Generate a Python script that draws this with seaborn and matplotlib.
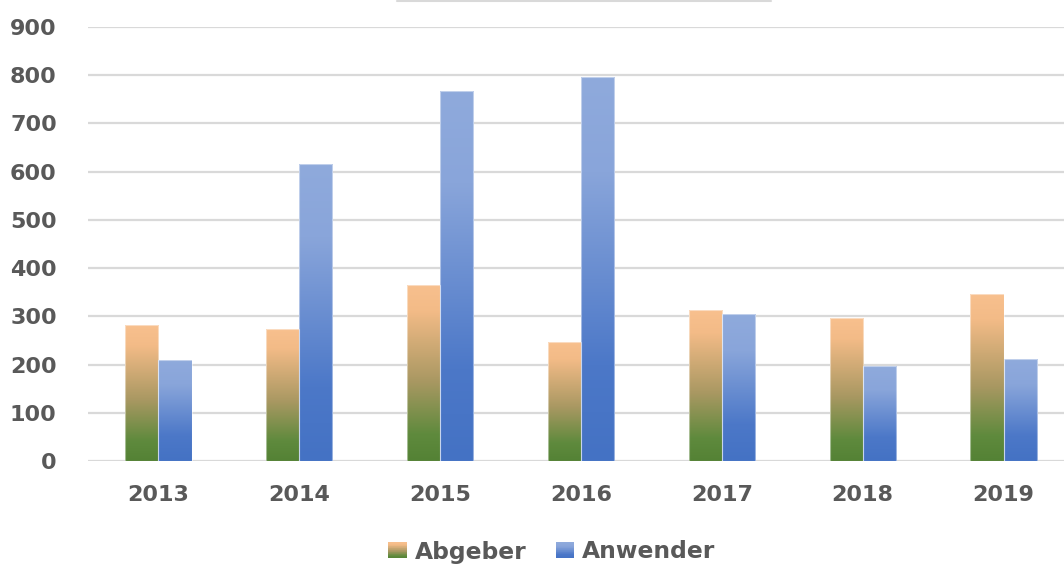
import numpy as np
import pandas as pd
import matplotlib
matplotlib.use("Agg")
import matplotlib.pyplot as plt
from matplotlib.colors import LinearSegmentedColormap
from matplotlib.patches import Rectangle
from matplotlib.legend_handler import HandlerBase
from matplotlib.lines import Line2D
import seaborn as sns

# Yearly counts
years = ["2013", "2014", "2015", "2016", "2017", "2018", "2019"]
abgeber = [282, 274, 365, 247, 313, 297, 346]
anwender = [210, 616, 767, 797, 304, 197, 211]
series_names = ["Abgeber", "Anwender"]
y_ticks = [0, 100, 200, 300, 400, 500, 600, 700, 800, 900]

df = pd.DataFrame({
    "Jahr": years * 2,
    "Wert": abgeber + anwender,
    "Gruppe": [series_names[0]] * len(years) + [series_names[1]] * len(years),
})

# Vertical fills: index 0 = bar top, 1 = bar bottom
cmap_abg = LinearSegmentedColormap.from_list(
    "abg", [(0.0, "#F8C08E"), (0.15, "#F3BB87"), (0.55, "#A99862"),
            (0.85, "#5F8A3D"), (1.0, "#548235")])
cmap_anw = LinearSegmentedColormap.from_list(
    "anw", [(0.0, "#8FAADC"), (0.25, "#89A5DA"), (0.75, "#4C78C8"),
            (1.0, "#4472C4")])
cmaps = {series_names[0]: cmap_abg, series_names[1]: cmap_anw}

sns.set_theme(style="white")
plt.rcParams["font.family"] = ["DejaVu Sans"]

fig = plt.figure(figsize=(10.64, 5.65), dpi=100)
ax = fig.add_axes([88 / 1064, 104 / 565, (1074 - 88) / 1064, (461 - 27) / 565])

sns.barplot(data=df, x="Jahr", y="Wert", hue="Gruppe", order=years,
            hue_order=series_names, width=0.47, gap=0, dodge=True,
            palette=["#F8C08E", "#8FAADC"], legend=False, ax=ax,
            errorbar=None, saturation=1)

ax.set_ylim(0, 900)
ax.set_xlim(-0.5, len(years) - 0.5)

# Replace flat fills with vertical gradients clipped to each bar
grad = np.linspace(0, 1, 256).reshape(-1, 1)
bars = [p for p in ax.patches if isinstance(p, Rectangle)]
n = len(years)
for i, patch in enumerate(bars[:2 * n]):
    name = series_names[i // n]
    x0, y0 = patch.get_x(), patch.get_y()
    w, h = patch.get_width(), patch.get_height()
    im = ax.imshow(grad, cmap=cmaps[name], aspect="auto",
                   extent=[x0, x0 + w, y0, y0 + h], origin="upper",
                   interpolation="bilinear", zorder=2)
    im.set_clip_path(patch)
    patch.set_facecolor("none")
    patch.set_edgecolor((1, 1, 1, 0.45))
    patch.set_linewidth(0.8)
    patch.set_zorder(3)

ax.set_xlim(-0.5, len(years) - 0.5)
ax.set_ylim(0, 900)

ax.set_yticks(y_ticks)
ax.yaxis.grid(True, color="#D9D9D9", linewidth=1.6)
ax.xaxis.grid(False)
ax.set_axisbelow(True)
for s in ax.spines.values():
    s.set_visible(False)
ax.set_xlabel("")
ax.set_ylabel("")
ax.tick_params(axis="y", length=0, pad=22.5, labelsize=16, labelcolor="#595959")
ax.tick_params(axis="x", length=0, pad=17.5, labelsize=16, labelcolor="#595959")
for lab in ax.get_xticklabels() + ax.get_yticklabels():
    lab.set_fontweight("bold")


class GradientSquare(HandlerBase):
    def __init__(self, cmap, steps=24):
        super().__init__()
        self.cmap = cmap
        self.steps = steps

    def create_artists(self, legend, orig_handle, xdescent, ydescent,
                       width, height, fontsize, trans):
        x0 = -xdescent
        y0 = -ydescent
        step = height / self.steps
        arts = []
        for k in range(self.steps):
            frac = 1 - (k + 0.5) / self.steps
            r = Rectangle((x0, y0 + k * step), width, step * 1.05,
                          facecolor=self.cmap(frac), edgecolor="none",
                          transform=trans)
            arts.append(r)
        return arts


h_abg = Rectangle((0, 0), 1, 1)
h_anw = Rectangle((0, 0), 1, 1)
leg = fig.legend([h_abg, h_anw], series_names,
                 handler_map={h_abg: GradientSquare(cmap_abg),
                              h_anw: GradientSquare(cmap_anw)},
                 loc="center", bbox_to_anchor=(552 / 1064, 1 - 552 / 565),
                 ncol=2, frameon=False, handlelength=0.78,
                 handleheight=0.66, handletextpad=0.34, columnspacing=1.27,
                 borderpad=0.2, prop={"weight": "bold", "size": 16.8})
for t in leg.get_texts():
    t.set_color("#595959")

# Thin border edge of the header box at the top
fig.add_artist(Line2D([397 / 1064, 771 / 1064], [1 - 1 / 565, 1 - 1 / 565],
                      transform=fig.transFigure, color="#D9D9D9", linewidth=1.5))

fig.savefig("out.png", dpi=100)
